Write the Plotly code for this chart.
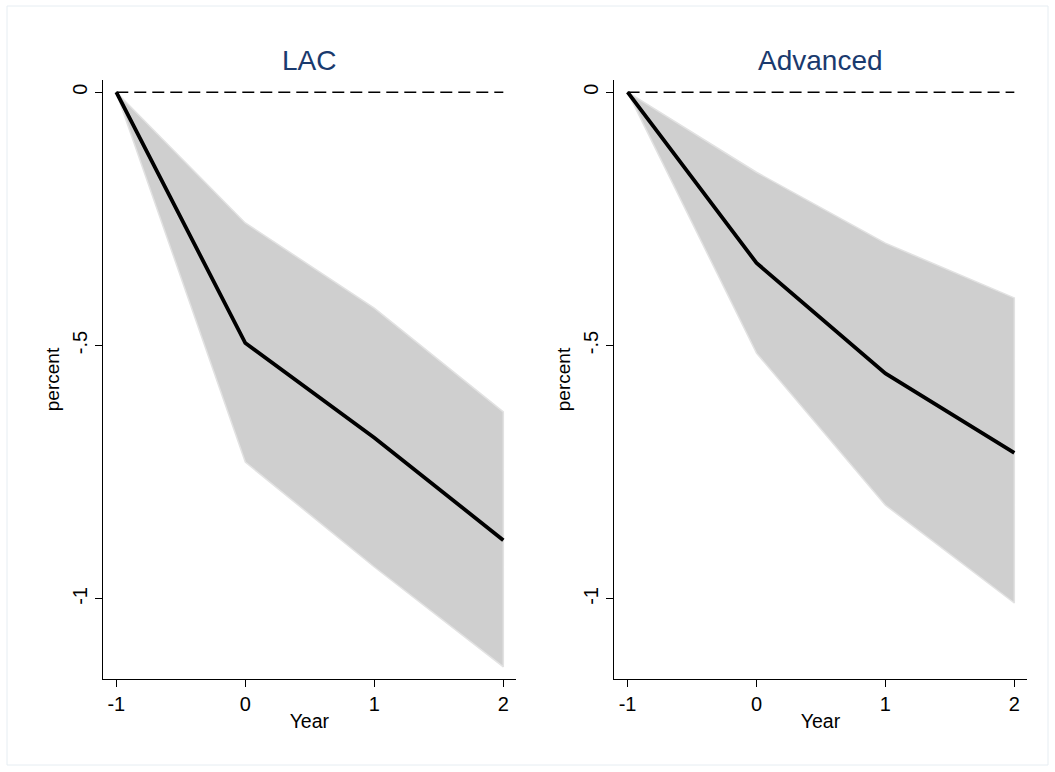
import plotly.graph_objects as go

years = [-1, 0, 1, 2]

lac_est = [0.0, -0.495, -0.682, -0.884]
lac_upper = [0.0, -0.258, -0.426, -0.631]
lac_lower = [0.0, -0.730, -0.937, -1.134]

adv_est = [0.0, -0.337, -0.555, -0.712]
adv_upper = [0.0, -0.158, -0.298, -0.406]
adv_lower = [0.0, -0.515, -0.815, -1.008]

panel_titles = ["LAC", "Advanced"]
y_tickvals = [0, -0.5, -1]
y_ticktext = ["0", "-.5", "-1"]
x_tickvals = [-1, 0, 1, 2]
x_ticktext = ["-1", "0", "1", "2"]

fig = go.Figure()

panels = [
    (lac_est, lac_upper, lac_lower, "x", "y"),
    (adv_est, adv_upper, adv_lower, "x2", "y2"),
]

for est, up, lo, xa, ya in panels:
    band_x = years + years[::-1]
    band_y = up + lo[::-1]
    fig.add_trace(go.Scatter(x=band_x, y=band_y, fill="toself", mode="lines",
                             fillcolor="#cfcfcf", line=dict(color="#e2e2e2", width=1.5),
                             xaxis=xa, yaxis=ya, showlegend=False, hoverinfo="skip"))
    fig.add_trace(go.Scatter(x=[years[0], years[-1]], y=[0, 0], mode="lines",
                             line=dict(color="black", width=1.5, dash="12px,6px"),
                             xaxis=xa, yaxis=ya, showlegend=False))
    fig.add_trace(go.Scatter(x=years, y=est, mode="lines",
                             line=dict(color="black", width=3.8),
                             xaxis=xa, yaxis=ya, showlegend=False))

font_fam = "Liberation Sans, Arial, sans-serif"

xaxis_common = dict(range=[-1.103, 2.096], tickvals=x_tickvals, ticktext=x_ticktext,
                    showgrid=False, zeroline=False, showline=True, linecolor="black",
                    linewidth=1, ticks="outside", ticklen=7, tickcolor="black",
                    tickfont=dict(size=20, color="black", family=font_fam),
                    title=dict(text="Year", font=dict(size=19.5, color="black", family=font_fam),
                               standoff=0))
yaxis_common = dict(range=[-1.158, 0.024], tickvals=y_tickvals, ticktext=y_ticktext,
                    showgrid=False, zeroline=False, showline=True, linecolor="black",
                    linewidth=1, ticks="outside", ticklen=7, tickcolor="black",
                    tickangle=-90,
                    tickfont=dict(size=20, color="black", family=font_fam),
                    title=dict(text="percent", font=dict(size=19, color="black", family=font_fam),
                               standoff=4))

ydom = [1 - 679 / 772, 1 - 80 / 772]
x1dom = [103 / 1055, 515.7 / 1055]
x2dom = [614.3 / 1055, 1026.7 / 1055]

fig.update_layout(
    width=1055, height=772,
    margin=dict(l=0, r=0, t=0, b=0),
    paper_bgcolor="white", plot_bgcolor="white",
    xaxis=dict(xaxis_common, domain=x1dom, anchor="y"),
    yaxis=dict(yaxis_common, domain=ydom, anchor="x"),
    xaxis2=dict(xaxis_common, domain=x2dom, anchor="y2"),
    yaxis2=dict(yaxis_common, domain=ydom, anchor="x2"),
    showlegend=False,
)

for title, dom in zip(panel_titles, [x1dom, x2dom]):
    fig.add_annotation(text=title, x=(dom[0] + dom[1]) / 2, y=1 - 60 / 772,
                       xref="paper", yref="paper", showarrow=False,
                       font=dict(size=28, color="#1a3a6e", family=font_fam),
                       xanchor="center", yanchor="middle")

fig.add_shape(type="rect", xref="paper", yref="paper",
              x0=7 / 1055, x1=1048 / 1055, y0=1 - 765 / 772, y1=1 - 6 / 772,
              line=dict(color="#e6edf2", width=1), fillcolor="rgba(0,0,0,0)", layer="below")

fig.write_html("out.html")
